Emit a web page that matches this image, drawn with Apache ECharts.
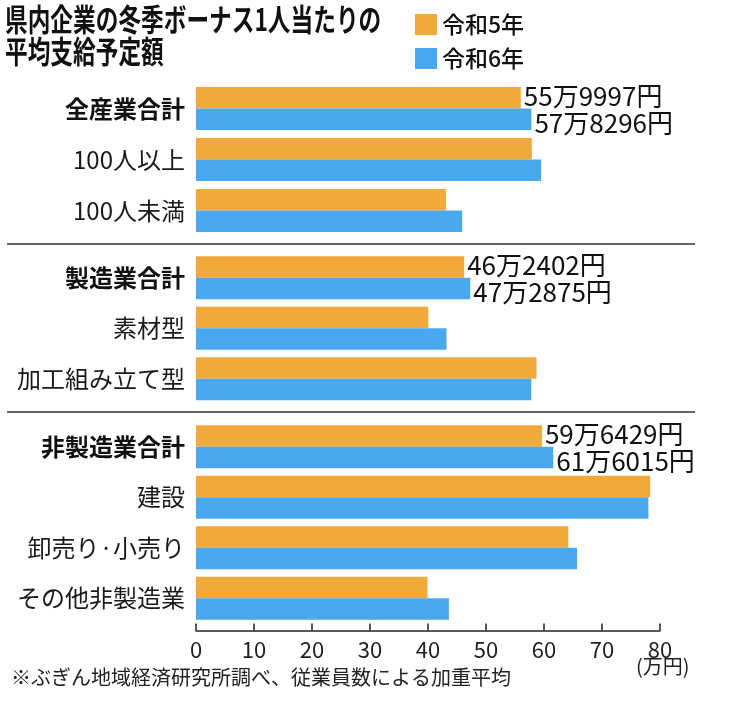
<!DOCTYPE html>
<html>
<head>
<meta charset="utf-8">
<script src="https://cdn.jsdelivr.net/npm/echarts@6/dist/echarts.min.js"></script>
<style>
html,body{margin:0;padding:0;background:#fff;}
#chart{width:738px;height:702px;}
</style>
</head>
<body>
<div id="chart"></div>
<script>
// ---- data ----
const titleText = '県内企業の冬季ボーナス1人当たりの\n平均支給予定額';
const noteText = '※ぶぎん地域経済研究所調べ、従業員数による加重平均';
const unitText = '(万円)';
const seriesNames = ['令和5年', '令和6年'];
const categoriesAll = ['全産業合計', '100人以上', '100人未満'];
const categoriesMfg = ['製造業合計', '素材型', '加工組み立て型'];
const categoriesNonMfg = ['非製造業合計', '建設', '卸売り·小売り', 'その他非製造業'];
const r5All = [55.9997, 57.9, 43.1];
const r6All = [57.8296, 59.5, 45.9];
const r5Mfg = [46.2402, 40.05, 58.7];
const r6Mfg = [47.2875, 43.2, 57.8];
const r5NonMfg = [59.6429, 78.3, 64.2, 39.9];
const r6NonMfg = [61.6015, 78.0, 65.7, 43.6];
const xTicks = [0, 10, 20, 30, 40, 50, 60, 70, 80];

// ---- chart ----
const FONT = '"Noto Sans CJK JP", "Noto Sans", sans-serif';
const COLORS = ['#F2A93B', '#4AA8EF'];
const chart = echarts.init(document.getElementById('chart'), null, {renderer: 'canvas'});

function fmtYen(v) {
  const man = Math.floor(v + 1e-9);
  const rest = Math.round((v - man) * 10000);
  return man + '万' + String(rest).padStart(4, '0') + '円';
}

const groups = [
  {cats: categoriesAll, r5: r5All, r6: r6All},
  {cats: categoriesMfg, r5: r5Mfg, r6: r6Mfg},
  {cats: categoriesNonMfg, r5: r5NonMfg, r6: r6NonMfg}
];
const gridBoxes = [
  {top: 83, height: 153},
  {top: 252.5, height: 151.5},
  {top: 421.5, height: 202}
];

const grids = [], xAxes = [], yAxes = [], series = [];
groups.forEach((g, i) => {
  grids.push({left: 196, right: 78, top: gridBoxes[i].top, height: gridBoxes[i].height, containLabel: false});
  const isLast = i === groups.length - 1;
  xAxes.push({
    type: 'value', gridIndex: i, min: xTicks[0], max: xTicks[xTicks.length - 1], interval: 10,
    show: isLast,
    offset: 7,
    splitLine: {show: false},
    axisLine: {show: true, lineStyle: {color: '#222', width: 1.5}},
    axisTick: {show: true, inside: true, length: 7, lineStyle: {color: '#222', width: 1.5}},
    axisLabel: {fontSize: 22, color: '#222', fontFamily: FONT, margin: 8}
  });
  yAxes.push({
    type: 'category', gridIndex: i, data: g.cats, inverse: true,
    axisLine: {show: false}, axisTick: {show: false},
    axisLabel: {
      fontSize: 24, color: '#1a1a1a', fontFamily: FONT, margin: 11,
      formatter: (name) => name.endsWith('合計') ? '{b|' + name + '}' : name,
      rich: {b: {fontSize: 24, fontWeight: 'bold', color: '#111', fontFamily: FONT}}
    }
  });
  [g.r5, g.r6].forEach((vals, k) => {
    series.push({
      type: 'bar', name: seriesNames[k], xAxisIndex: i, yAxisIndex: i,
      data: vals, barWidth: 21.5, barGap: '0%',
      itemStyle: {color: COLORS[k]},
      label: {
        show: true, position: 'right', distance: 3,
        offset: k === 0 ? [0, -2] : [0, 4],
        fontSize: 26, color: '#111', fontFamily: FONT,
        formatter: (p) => p.name.endsWith('合計') ? fmtYen(p.value) : ''
      }
    });
  });
});

const option = {
  backgroundColor: '#fff',
  animation: false,
  title: [
    {text: noteText, left: 6, top: 662,
     textStyle: {fontSize: 20, fontWeight: 'normal', color: '#222', fontFamily: FONT}},
    {text: unitText, left: 631, top: 651,
     textStyle: {fontSize: 20, fontWeight: 'normal', color: '#222', fontFamily: FONT}}
  ],
  legend: {
    data: seriesNames, orient: 'vertical', left: 410, top: 8,
    itemWidth: 22, itemHeight: 21, itemGap: 11, icon: 'rect',
    textStyle: {fontSize: 23, color: '#111', fontFamily: FONT, fontWeight: 500}
  },
  grid: grids, xAxis: xAxes, yAxis: yAxes, series: series,
  graphic: [
    {type: 'text', left: 5, top: 4, scaleX: 0.84, scaleY: 1.12,
     style: {text: titleText, font: 'bold 27px ' + FONT, fill: '#111', lineHeight: 28}},
    {type: 'line', shape: {x1: 7, y1: 244, x2: 695, y2: 244}, style: {stroke: '#333', lineWidth: 1.5}},
    {type: 'line', shape: {x1: 7, y1: 412, x2: 695, y2: 412}, style: {stroke: '#333', lineWidth: 1.5}}
  ]
};
chart.setOption(option);
</script>
</body>
</html>
